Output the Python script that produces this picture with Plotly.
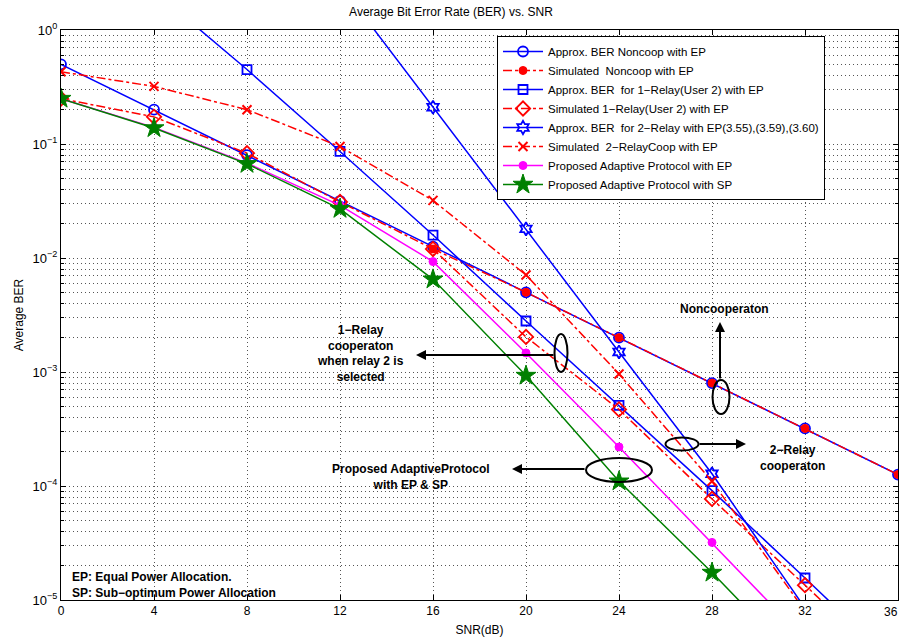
import plotly.graph_objects as go

# ---------------- data ----------------
snr = [0, 4, 8, 12, 16, 20, 24, 28, 32, 36]

approx_noncoop = [0.5, 0.2, 0.08, 0.0316, 0.0126, 0.005, 0.002, 0.0008, 0.00032, 0.000126]

snr_sim_noncoop = [16, 20, 24, 28, 32, 36]
sim_noncoop = [0.012, 0.005, 0.002, 0.0008, 0.00032, 0.000126]

snr_1relay = [4, 8, 12, 16, 20, 24, 28, 32, 36]
approx_1relay = [2.2, 0.45, 0.086, 0.0159, 0.0028, 0.00051, 9.1e-5, 1.56e-5, 2.6e-6]

sim_1relay = [0.25, 0.173, 0.083, 0.031, 0.012, 0.00203, 0.00047, 7.7e-5, 1.35e-5, 2.3e-6]

snr_2relay = [12, 16, 20, 24, 28, 32]
approx_2relay = [2.5, 0.21, 0.018, 0.0015, 0.000128, 8.5e-6]

snr_sim_2relay = [0, 4, 8, 12, 16, 20, 24, 28, 32]
sim_2relay = [0.43, 0.32, 0.20, 0.095, 0.032, 0.0071, 0.00096, 0.00011, 8e-6]

snr_adapt = [0, 4, 8, 12, 16, 20, 24, 28, 32]
adapt_ep = [0.25, 0.14, 0.068, 0.029, 0.0093, 0.00147, 0.00022, 3.2e-5, 4.5e-6]
adapt_sp = [0.25, 0.138, 0.067, 0.027, 0.0065, 0.00093, 0.00011, 1.74e-5, 2.5e-6]

x_ticks = [0, 4, 8, 12, 16, 20, 24, 28, 32, 36]
x_ticktext = ["0", "4", "8", "12", "16", "20", "24", "28", "32", ""]
last_x_label = "36"
y_tickvals = [1e-5, 1e-4, 1e-3, 1e-2, 1e-1, 1]
y_ticktext = ["10<sup>−5</sup>", "10<sup>−4</sup>", "10<sup>−3</sup>",
              "10<sup>−2</sup>", "10<sup>−1</sup>", "10<sup>0</sup>"]

# ---------------- layout helpers ----------------
W, H = 901, 641
L, R, T, B = 61, 898, 30, 600
FONT = "Liberation Sans, Arial, Helvetica, sans-serif"


def px(x):
    return (x - L) / (R - L)


def py(y):
    return (B - y) / (B - T)


BLUE = "#0000ff"
RED = "#ff0000"
MAG = "#ff00ff"
GREEN = "#008000"

fig = go.Figure()

fig.add_trace(go.Scatter(
    x=snr, y=approx_noncoop, name="Approx. BER Noncoop with EP",
    mode="lines+markers", line=dict(color=BLUE, width=1.5),
    marker=dict(symbol="circle-open", size=10, color=BLUE, line=dict(width=1.8))))

fig.add_trace(go.Scatter(
    x=snr_sim_noncoop, y=sim_noncoop, name="Simulated  Noncoop with EP",
    mode="lines+markers", line=dict(color=RED, width=1.5, dash="dashdot"),
    marker=dict(symbol="circle", size=8, color=RED, line=dict(width=1, color=RED))))

fig.add_trace(go.Scatter(
    x=snr_1relay, y=approx_1relay, name="Approx. BER  for 1−Relay(User 2) with EP",
    mode="lines+markers", line=dict(color=BLUE, width=1.5),
    marker=dict(symbol="square-open", size=9, color=BLUE, line=dict(width=1.8))))

fig.add_trace(go.Scatter(
    x=snr, y=sim_1relay, name="Simulated 1−Relay(User 2) with EP",
    mode="lines+markers", line=dict(color=RED, width=1.5, dash="dashdot"),
    marker=dict(symbol="diamond-open", size=11, color=RED, line=dict(width=1.8))))

fig.add_trace(go.Scatter(
    x=snr_2relay, y=approx_2relay, name="Approx. BER  for 2−Relay with EP(3.55),(3.59),(3.60)",
    mode="lines+markers", line=dict(color=BLUE, width=1.5),
    marker=dict(symbol="hexagram-open", size=10, color=BLUE, line=dict(width=1.8))))

fig.add_trace(go.Scatter(
    x=snr_sim_2relay, y=sim_2relay, name="Simulated  2−RelayCoop with EP",
    mode="lines+markers", line=dict(color=RED, width=1.5, dash="dashdot"),
    marker=dict(symbol="x-thin-open", size=9, color=RED, line=dict(width=2, color=RED))))

fig.add_trace(go.Scatter(
    x=snr_adapt, y=adapt_ep, name="Proposed Adaptive Protocol with EP",
    mode="lines+markers", line=dict(color=MAG, width=1.5),
    marker=dict(symbol="circle", size=8, color=MAG, line=dict(width=1, color=MAG))))

fig.add_trace(go.Scatter(
    x=snr_adapt, y=adapt_sp, name="Proposed Adaptive Protocol with SP",
    mode="lines+markers", line=dict(color=GREEN, width=1.5),
    marker=dict(symbol="star", size=15, color=GREEN, line=dict(width=1, color=GREEN))))

grid = dict(showgrid=True, gridcolor="#555555", griddash="1px,3px", gridwidth=1)

fig.update_xaxes(
    range=[0, 36], tickvals=x_ticks, ticktext=x_ticktext,
    ticks="inside", ticklen=5, tickcolor="black",
    showline=True, linecolor="black", linewidth=1, mirror="ticks", zeroline=False,
    automargin=False,
    tickfont=dict(family=FONT, size=12, color="black"),
    title=dict(text="SNR(dB)", font=dict(family=FONT, size=12, color="black"), standoff=8),
    **grid)

fig.update_yaxes(
    type="log", range=[-5, 0], tickvals=y_tickvals, ticktext=y_ticktext,
    ticks="inside", ticklen=5, tickcolor="black", automargin=False,
    showline=True, linecolor="black", linewidth=1, mirror="ticks", zeroline=False,
    tickfont=dict(family=FONT, size=13, color="black"),
    title=dict(text="Average BER", font=dict(family=FONT, size=12, color="black"), standoff=6),
    minor=dict(ticks="inside", ticklen=3, tickcolor="black", dtick="D1",
               showgrid=True, gridcolor="#555555", griddash="1px,3px", gridwidth=1),
    **grid)

shapes = []
# ellipses (x0, x1, y0, y1 in pixels)
for (x0, x1, y0, y1) in [(554.5, 567.5, 334, 372), (712.5, 729.5, 380, 414),
                         (665.5, 698.5, 437.5, 450.5), (586, 652, 458, 482)]:
    shapes.append(dict(type="circle", xref="paper", yref="paper",
                       x0=px(x0), x1=px(x1), y0=py(y1), y1=py(y0),
                       line=dict(color="black", width=2)))

annotations = []
# arrows: tip (x, y), tail offset
for (tx, ty, ax, ay) in [(416, 355, 139, 0), (720, 322, 0, 58),
                         (746, 444, -48, 0), (512, 469, 74, 0)]:
    annotations.append(dict(x=px(tx), y=py(ty), xref="paper", yref="paper",
                            text="", showarrow=True, ax=ax, ay=ay,
                            arrowhead=2, arrowsize=1, arrowwidth=2, arrowcolor="black"))

bold = dict(family=FONT, size=12, color="black")
for (tx, ty, txt, anc) in [
        (360, 353, "<b>1−Relay<br>cooperaton<br>when relay 2 is<br>selected</b>", "center"),
        (724, 309, "<b>Noncooperaton</b>", "center"),
        (792, 458, "<b>2−Relay<br>cooperaton</b>", "center"),
        (411, 477, "<b>Proposed AdaptiveProtocol<br>with EP &amp; SP</b>", "center"),
]:
    annotations.append(dict(x=px(tx), y=py(ty), xref="paper", yref="paper",
                            text=txt, showarrow=False, font=bold,
                            xanchor="center", yanchor="middle", align=anc))

annotations.append(dict(x=px(70), y=py(585), xref="paper", yref="paper",
                        text="<b>EP: Equal Power Allocation.<br>SP: Sub−optimum Power Allocation</b>",
                        showarrow=False, font=bold, xanchor="left", yanchor="middle",
                        align="left"))

# last x tick label, pulled inside the window like the reference
annotations.append(dict(x=px(899), y=py(604), xref="paper", yref="paper",
                        text=last_x_label, showarrow=False,
                        font=dict(family=FONT, size=12, color="black"),
                        xanchor="right", yanchor="top", borderpad=0))

fig.update_layout(
    width=W, height=H,
    margin=dict(l=L, r=W - R, t=T, b=H - B, autoexpand=False),
    paper_bgcolor="white", plot_bgcolor="white",
    title=dict(text="Average Bit Error Rate (BER) vs. SNR", x=px(480), xanchor="center",
               y=1 - 12 / H, yanchor="middle",
               font=dict(family=FONT, size=12, color="black")),
    legend=dict(x=px(497), y=py(36), xanchor="left", yanchor="top",
                bgcolor="white", bordercolor="black", borderwidth=1,
                font=dict(family=FONT, size=11.5, color="black"),
                tracegroupgap=0, itemwidth=40),
    shapes=shapes, annotations=annotations,
    showlegend=True,
)

fig.write_html("out.html", config={"displayModeBar": False},
               post_script="document.body.style.margin='0';document.body.style.overflow='hidden';")
